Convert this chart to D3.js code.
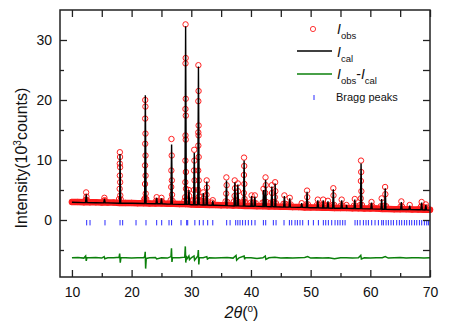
<!DOCTYPE html>
<html>
<head>
<meta charset="utf-8">
<script src="https://cdn.jsdelivr.net/npm/d3@7"></script>
<style>
  body { margin: 0; background: #fff; }
  svg text { font-family: "Liberation Sans", Arial, sans-serif; fill: #111; }
</style>
</head>
<body>
<script>
'use strict';

// tick values
let xMajor = [10, 20, 30, 40, 50, 60, 70];
let xMinor = [15, 25, 35, 45, 55, 65];
let yMajor = [0, 10, 20, 30];
let yMinor = [-5, 5, 15, 25];

// observed background band, [2theta, I(10^3 counts)]
let obsBg = [[10,3.0],[11,3.0],[12,2.95],[13,2.95],[14,2.95],[15,2.9],[16,2.9],[17,2.9],[18,2.85],[19,2.85],
  [20,2.85],[21,2.8],[22,2.8],[23,2.75],[24,2.75],[25,2.75],[26,2.7],[27,2.7],[28,2.65],[29,2.65],
  [30,2.6],[31,2.55],[32,2.55],[33,2.5],[34,2.5],[35,2.45],[36,2.45],[37,2.4],[38,2.4],[39,2.35],
  [40,2.35],[41,2.3],[42,2.3],[43,2.25],[44,2.25],[45,2.2],[46,2.2],[47,2.15],[48,2.15],[49,2.1],
  [50,2.1],[51,2.1],[52,2.05],[53,2.05],[54,2.0],[55,2.0],[56,2.0],[57,1.95],[58,1.95],[59,1.9],
  [60,1.9],[61,1.9],[62,1.85],[63,1.85],[64,1.8],[65,1.8],[66,1.8],[67,1.75],[68,1.75],[69,1.7],[70,1.7]];

// observed points on the peaks
let obsPeaks = [[12.38,4.6],[12.43,3.9],[12.35,3.4],[15.44,3.7],[15.5,3.3],
  [18.03,11.3],[18.06,10.5],[18.02,9.4],[18.07,8.8],[18.03,7.4],[18.08,6.3],[18.0,5.2],[18.1,4.1],
  [22.28,20.0],[22.31,18.9],[22.27,16.9],[22.32,14.4],[22.28,12.7],[22.33,10.75],[22.26,9.1],[22.34,7.4],[22.25,6.0],[22.36,4.4],[22.22,3.6],
  [24.2,3.8],[25.0,3.7],
  [26.68,13.5],[26.72,10.75],[26.66,8.25],[26.74,6.6],[26.64,5.5],[26.77,4.2],
  [29.04,32.6],[29.06,27.0],[29.03,26.1],[29.07,20.2],[29.02,18.5],[29.08,17.4],[29.03,14.1],[29.07,13.4],[29.01,9.9],[29.09,8.0],[29.0,6.3],[29.11,5.2],[28.97,3.8],
  [29.58,5.0],[29.65,4.0],
  [30.49,11.7],[30.52,9.9],[30.46,8.25],[30.54,6.6],[30.44,5.0],
  [31.19,25.8],[31.22,21.5],[31.18,19.8],[31.23,15.75],[31.17,14.6],[31.22,14.1],[31.18,12.4],[31.24,10.5],[31.16,8.25],[31.25,6.6],[31.14,5.0],[31.28,3.9],
  [32.0,4.6],[32.05,3.6],[32.58,6.6],[32.62,5.4],[32.55,4.2],[33.6,3.3],
  [35.88,7.1],[35.92,5.8],[35.85,4.4],[37.28,6.6],[37.33,5.3],[37.25,4.0],[37.8,6.1],[37.84,4.8],
  [38.84,10.4],[38.87,9.0],[38.82,7.5],[38.89,6.0],[38.8,4.5],[38.92,3.5],
  [40.1,4.1],[40.65,4.1],[42.1,5.2],[42.44,7.1],[42.48,5.8],[42.4,4.5],
  [43.5,5.8],[43.53,4.5],[44.05,6.3],[44.08,4.8],[44.0,3.8],
  [45.6,4.1],[46.5,3.7],[48.5,2.8],[49.4,4.9],[49.43,3.8],
  [51.2,3.4],[52.1,3.4],[52.9,3.2],[53.8,5.3],[53.83,4.1],[55.2,3.4],[56.0,2.5],[57.4,3.5],
  [58.44,9.9],[58.47,8.0],[58.42,6.5],[58.5,4.8],[58.4,3.6],
  [60.2,3.0],[61.9,3.6],[62.48,5.5],[62.52,4.3],[65.2,3.1],[66.6,2.5],[68.6,3.0],[69.3,2.6]];

// observed points around the feet of the peaks
let obsFeet = [[12.25,3.3],[12.55,3.3],[15.3,3.2],[15.6,3.1],[17.9,3.5],[18.2,3.4],[22.1,3.4],[22.45,3.5],
  [24.1,3.2],[24.3,3.1],[24.9,3.1],[25.1,3.1],[26.55,3.3],[26.85,3.2],[28.85,3.2],[29.25,3.4],[29.45,3.3],
  [30.35,3.3],[30.65,3.4],[31.05,3.2],[31.4,3.3],[31.85,3.1],[32.15,3.2],[32.45,3.1],[32.75,3.1],[33.5,2.9],
  [35.75,3.1],[36.05,3.0],[37.15,3.1],[37.5,3.2],[37.65,3.2],[37.95,3.0],[38.7,3.0],[39.0,3.0],[39.95,2.9],
  [40.3,2.9],[40.5,2.9],[40.8,2.8],[41.95,2.9],[42.25,3.0],[42.6,3.0],[43.35,2.9],[43.7,3.0],[43.9,2.9],
  [44.2,2.8],[45.45,2.7],[45.75,2.7],[46.35,2.6],[46.65,2.6],[49.25,2.6],[49.55,2.6],[51.05,2.5],[51.35,2.5],
  [51.95,2.5],[52.25,2.5],[52.75,2.4],[53.05,2.4],[53.65,2.5],[53.95,2.5],[55.05,2.4],[55.35,2.4],[57.25,2.4],
  [57.55,2.4],[58.3,2.5],[58.6,2.5],[60.05,2.3],[60.35,2.3],[61.75,2.3],[62.05,2.3],[62.35,2.4],[62.65,2.3],
  [65.05,2.2],[65.35,2.2],[68.45,2.2],[68.75,2.2],[69.15,2.1],[69.45,2.1]];

// calculated profile: background knots and peaks
let calBg = [[10,2.95],[12,2.9],[14,2.88],[16,2.85],[18,2.8],[20,2.8],[22,2.75],[24,2.7],[26,2.65],[28,2.6],
  [30,2.55],[32,2.5],[34,2.45],[36,2.4],[38,2.35],[40,2.3],[42,2.25],[44,2.2],[46,2.15],[48,2.1],
  [50,2.05],[52,2.0],[54,1.95],[56,1.95],[58,1.9],[60,1.85],[62,1.8],[64,1.75],[66,1.75],[68,1.7],[70,1.65]];
let peakPos  = [12.4, 15.45, 18.05, 22.3, 24.2, 25.0, 26.7, 29.05, 29.6, 30.5, 31.2, 32.0, 32.6, 33.6, 35.9,
  37.3, 37.8, 38.85, 40.1, 40.65, 42.1, 42.45, 43.5, 44.05, 45.6, 46.5, 48.5, 49.4, 51.2, 52.1, 52.9,
  53.8, 55.2, 56.0, 57.4, 58.45, 60.2, 61.9, 62.5, 65.2, 66.6, 68.6, 69.3];
let peakCal  = [4.3, 3.5, 11.0, 20.8, 3.7, 3.6, 12.6, 32.3, 5.0, 11.2, 25.6, 4.5, 6.4, 3.2, 6.6,
  6.3, 5.9, 9.9, 4.0, 3.9, 5.0, 6.7, 5.6, 6.1, 4.0, 3.6, 2.8, 4.7, 3.3, 3.3, 3.1,
  5.1, 3.3, 2.5, 3.4, 9.4, 2.9, 3.5, 5.3, 3.0, 2.4, 2.9, 2.5];
let peakBase = [2.9, 2.85, 2.8, 2.75, 2.7, 2.7, 2.65, 2.6, 2.6, 2.55, 2.55, 2.5, 2.5, 2.45, 2.4,
  2.35, 2.35, 2.32, 2.3, 2.3, 2.25, 2.25, 2.22, 2.2, 2.15, 2.15, 2.1, 2.08, 2.03, 2.0, 2.0,
  1.97, 1.95, 1.95, 1.92, 1.9, 1.85, 1.82, 1.8, 1.75, 1.75, 1.7, 1.68];

// difference curve
let diffPts = [[10,-6.3],[11,-6.25],[12,-6.35],[12.3,-6.0],[12.4,-6.8],[12.5,-6.3],[13,-6.3],[14,-6.25],[15,-6.35],
  [15.4,-6.1],[15.5,-6.45],[16,-6.3],[17,-6.3],[17.9,-6.2],[18.0,-5.6],[18.1,-7.1],[18.2,-6.3],[19,-6.3],[20,-6.35],
  [21,-6.3],[22,-6.3],[22.2,-6.1],[22.28,-5.3],[22.35,-8.1],[22.45,-6.4],[23,-6.3],[24,-6.25],[24.2,-6.5],[25,-6.3],
  [26,-6.35],[26.6,-6.1],[26.68,-4.7],[26.76,-7.0],[26.85,-6.3],[27,-6.3],[28,-6.3],[28.9,-6.2],[29.0,-4.4],[29.08,-7.1],
  [29.15,-6.0],[29.25,-6.5],[29.6,-6.0],[29.7,-6.6],[30,-6.3],[30.45,-6.0],[30.55,-6.7],[31.1,-6.0],[31.18,-5.0],
  [31.26,-7.4],[31.35,-6.3],[32,-6.3],[32.6,-6.1],[32.7,-6.5],[33,-6.3],[34,-6.35],[35,-6.3],[36,-6.25],[37,-6.35],
  [37.5,-5.9],[37.6,-6.7],[38,-6.3],[38.85,-6.0],[38.95,-6.55],[39,-6.3],[40,-6.3],[41,-6.4],[42,-6.3],[42.4,-6.0],
  [42.5,-6.55],[43,-6.3],[44,-6.2],[45,-6.35],[46,-6.3],[47,-6.35],[48,-6.3],[49,-6.25],[49.5,-6.1],[50,-6.35],
  [51,-6.3],[52,-6.35],[53,-6.3],[54,-6.45],[55,-6.3],[56,-6.3],[57,-6.35],[58,-6.3],[58.4,-5.9],[58.5,-6.5],
  [59,-6.3],[60,-6.35],[61,-6.3],[62,-6.3],[62.5,-6.1],[63,-6.35],[64,-6.3],[65,-6.25],[66,-6.35],[67,-6.3],
  [68,-6.3],[69,-6.35],[70,-6.3]];

// bragg reflection positions
let braggPos = [12.47, 13.03, 15.54, 18.06, 18.5, 20.74, 22.41, 24.2, 25.04, 26.27, 26.7, 28.28, 29.23, 29.4,
  30.6, 31.35, 32.0, 32.75, 33.6, 35.93, 36.5, 37.44, 37.8, 38.17, 38.6, 39.06, 39.56, 40.12, 40.68,
  42.08, 42.47, 43.75, 44.2, 45.54, 46.44, 46.83, 47.39, 47.78, 48.22, 48.67, 49.62, 50.46, 51.3,
  52.13, 52.53, 52.97, 53.53, 54.09, 54.54, 54.93, 55.37, 55.77, 57.44, 57.83, 58.28, 58.84, 59.28,
  59.68, 60.23, 60.79, 61.35, 61.91, 62.19, 62.64, 63.03, 63.47, 63.87, 64.42, 64.87, 65.26, 65.71,
  66.1, 66.55, 66.94, 67.39, 67.78, 68.23, 68.61, 69.06, 69.45, 69.73];

// chart frame
let width = 463, height = 327;
let plot = { left: 60, right: 430, top: 10, bottom: 277 };

let svg = d3.select("body").append("svg")
  .attr("width", width)
  .attr("height", height);

let xScale = d3.scaleLinear().domain([8, 70]).range([plot.left, plot.right]);
let yScale = d3.scaleLinear().domain([-9.5, 35]).range([plot.bottom, plot.top]);

let line = d3.line().x(d => xScale(d[0])).y(d => yScale(d[1]));

// observed data: dense band on the background plus circles
svg.append("path")
  .datum(obsBg)
  .attr("d", line)
  .attr("fill", "none")
  .attr("stroke", "#ff1a1a")
  .attr("stroke-width", 6.5)
  .attr("stroke-linejoin", "round")
  .attr("stroke-linecap", "round");

svg.selectAll(".obs")
  .data(obsBg.concat(obsFeet, obsPeaks))
  .enter()
  .append("circle")
  .attr("class", "obs")
  .attr("cx", d => xScale(d[0]))
  .attr("cy", d => yScale(d[1]))
  .attr("r", 2.7)
  .attr("fill", "none")
  .attr("stroke", "#ff2020")
  .attr("stroke-width", 1);

// calculated profile
let calPts = calBg.slice();
peakPos.forEach((p, i) => {
  calPts.push([p - 0.12, peakBase[i]], [p, peakCal[i]], [p + 0.12, peakBase[i]]);
});
calPts.sort((a, b) => a[0] - b[0]);

svg.append("path")
  .datum(calPts)
  .attr("d", line)
  .attr("fill", "none")
  .attr("stroke", "#000")
  .attr("stroke-width", 1.4);

// bragg ticks
svg.selectAll(".bragg")
  .data(braggPos)
  .enter()
  .append("line")
  .attr("class", "bragg")
  .attr("x1", d => xScale(d))
  .attr("x2", d => xScale(d))
  .attr("y1", yScale(0))
  .attr("y2", yScale(-0.9))
  .attr("stroke", "#2b2bff")
  .attr("stroke-width", 1);

// difference curve
svg.append("path")
  .datum(diffPts)
  .attr("d", line)
  .attr("fill", "none")
  .attr("stroke", "#0b800b")
  .attr("stroke-width", 1.5);

// axes
function styleAxis(g) {
  g.select(".domain").remove();
  g.selectAll(".tick line").attr("stroke", "#222").attr("stroke-width", 1.3);
  g.selectAll(".tick text")
    .attr("fill", "#111")
    .style("font-size", "14px")
    .style("font-family", '"Liberation Sans", Arial, sans-serif');
}

svg.append("g")
  .attr("transform", "translate(0," + plot.bottom + ")")
  .call(d3.axisBottom(xScale).tickValues(xMajor).tickSize(-7).tickPadding(10).tickFormat(d3.format("d")))
  .call(styleAxis);
svg.append("g")
  .attr("transform", "translate(0," + plot.bottom + ")")
  .call(d3.axisBottom(xScale).tickValues(xMinor).tickSize(-4).tickFormat(""))
  .call(styleAxis);

svg.append("g")
  .attr("transform", "translate(" + plot.left + ",0)")
  .call(d3.axisLeft(yScale).tickValues(yMajor).tickSize(-7).tickPadding(8).tickFormat(d3.format("d")))
  .call(styleAxis);
svg.append("g")
  .attr("transform", "translate(" + plot.left + ",0)")
  .call(d3.axisLeft(yScale).tickValues(yMinor).tickSize(-4).tickFormat(""))
  .call(styleAxis);

// mirror ticks on top and right
svg.append("g")
  .attr("transform", "translate(0," + plot.top + ")")
  .call(d3.axisTop(xScale).tickValues(xMajor.concat(xMinor)).tickSize(-7).tickFormat(""))
  .call(styleAxis);
svg.append("g")
  .attr("transform", "translate(" + plot.right + ",0)")
  .call(d3.axisRight(yScale).tickValues(yMajor.concat(yMinor)).tickSize(-7).tickFormat(""))
  .call(styleAxis);

// frame
svg.append("rect")
  .attr("x", plot.left)
  .attr("y", plot.top)
  .attr("width", plot.right - plot.left)
  .attr("height", plot.bottom - plot.top)
  .attr("fill", "none")
  .attr("stroke", "#222")
  .attr("stroke-width", 1.5);

// axis labels
let yLabel = svg.append("text")
  .attr("transform", "translate(27,158) rotate(-90)")
  .attr("text-anchor", "middle")
  .style("font-size", "16px");
yLabel.append("tspan").text("Intensity(10");
yLabel.append("tspan").attr("dy", -6).style("font-size", "10px").text("3");
yLabel.append("tspan").attr("dy", 6).text("counts)");

let xLabel = svg.append("text")
  .attr("x", 241.5)
  .attr("y", 318)
  .attr("text-anchor", "middle")
  .style("font-size", "16px");
xLabel.append("tspan").style("font-style", "italic").text("2θ");
xLabel.append("tspan").text("(");
xLabel.append("tspan").attr("dy", -6).style("font-size", "10px").text("o");
xLabel.append("tspan").attr("dy", 6).text(")");

// legend
let legend = svg.append("g");
legend.append("circle")
  .attr("cx", 313).attr("cy", 29).attr("r", 2.6)
  .attr("fill", "none").attr("stroke", "#ff2020").attr("stroke-width", 0.9);
legend.append("line")
  .attr("x1", 297).attr("x2", 332).attr("y1", 51).attr("y2", 51)
  .attr("stroke", "#000").attr("stroke-width", 1.4);
legend.append("line")
  .attr("x1", 297).attr("x2", 332).attr("y1", 74).attr("y2", 74)
  .attr("stroke", "#0b800b").attr("stroke-width", 1.4);
legend.append("line")
  .attr("x1", 314).attr("x2", 314).attr("y1", 95).attr("y2", 100)
  .attr("stroke", "#2b2bff").attr("stroke-width", 1);

function intensityLabel(yPos, parts) {
  let t = legend.append("text").attr("x", 337).attr("y", yPos).style("font-size", "14px");
  parts.forEach(p => {
    let s = t.append("tspan").text(p.text);
    if (p.italic) s.style("font-style", "italic");
    if (p.sub) s.style("font-size", "9.5px");
    if (p.dy) s.attr("dy", p.dy);
  });
}
intensityLabel(33.5, [{ text: "I", italic: true }, { text: "obs", sub: true, dy: 5 }]);
intensityLabel(56.5, [{ text: "I", italic: true }, { text: "cal", sub: true, dy: 5 }]);
intensityLabel(79, [{ text: "I", italic: true }, { text: "obs", sub: true, dy: 5 },
  { text: "-", dy: -5 }, { text: "I", italic: true }, { text: "cal", sub: true, dy: 5 }]);

legend.append("text")
  .attr("x", 336).attr("y", 101)
  .style("font-size", "11px")
  .text("Bragg peaks");
</script>
</body>
</html>
